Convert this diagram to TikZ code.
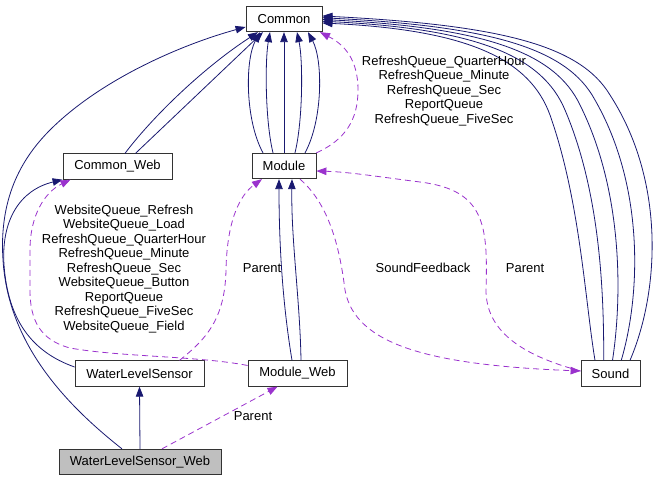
\documentclass[tikz,border=0pt]{standalone}
\usepackage{fontspec}
\setmainfont{Liberation Sans}
\usetikzlibrary{arrows.meta,calc}
\definecolor{navy}{HTML}{191970}
\definecolor{orchid}{HTML}{9A32CD}
\definecolor{grayfill}{HTML}{BFBFBF}
\begin{document}
\begin{tikzpicture}[x=1pt,y=-1pt,
  cls/.style={draw=black!80, fill=white, line width=0.8pt, inner sep=0pt, minimum height=25.5pt, font=\fontsize{13}{15}\selectfont},
  inh/.style={draw=navy, line width=0.8pt, -{Triangle[length=10pt,width=7.5pt]}},
  use/.style={draw=orchid, line width=0.8pt, dash pattern=on 6pt off 4pt, -{Triangle[length=10pt,width=7.5pt]}},
  lbl/.style={align=center, font=\fontsize{13}{14.5}\selectfont, inner sep=0pt}]
\useasboundingbox (0,0) rectangle (659,481);

% nodes
\node[cls, minimum width=76pt] (common) at (284,19) {Common};
\node[cls, minimum width=109pt] (cweb) at (117.5,166.5) {Common\_Web};
\node[cls, minimum width=64pt] (module) at (284,166) {Module};
\node[cls, minimum width=129pt] (wls) at (139.5,373.5) {WaterLevelSensor};
\node[cls, minimum width=99pt] (mweb) at (297.5,373.5) {Module\_Web};
\node[cls, minimum width=162pt, fill=grayfill] (wlsw) at (140,462) {WaterLevelSensor\_Web};
\node[cls, minimum width=59pt] (sound) at (610.5,373.5) {Sound};

% inheritance / solid edges
\draw[inh] (wlsw.north) -- (wls.south);
\draw[inh] ([xshift=-18pt]wlsw.north) .. controls (60,400) and (8,340) .. (3,260)
  .. controls (-1,200) and (20,160) .. (50,130)
  .. controls (100,80) and (180,45) .. ([yshift=-8pt]common.west);
\draw[inh] ([yshift=6.5pt]wls.west) .. controls (32,352) and (8,320) .. (4,265)
  .. controls (1,220) and (20,190) .. (cweb.south west);
\draw[inh] ([xshift=7.5pt]cweb.north) .. controls (150,120) and (200,70) .. ([xshift=-26pt]common.south);
\draw[inh] ([xshift=18pt]cweb.north) -- ([xshift=-21pt]common.south);

\draw[inh] ([xshift=-21pt]module.north) .. controls (245,120) and (245,60) .. ([xshift=-24pt]common.south);
\draw[inh] ([xshift=-11pt]module.north) .. controls (265,120) and (265,60) .. ([xshift=-14pt]common.south);
\draw[inh] (module.north) -- (common.south);
\draw[inh] ([xshift=11pt]module.north) .. controls (303,120) and (303,60) .. ([xshift=13pt]common.south);
\draw[inh] ([xshift=21pt]module.north) .. controls (323,120) and (323,60) .. ([xshift=24pt]common.south);

\foreach \t in {0,0.25,0.5,0.75,1}{
  \pgfmathsetmacro\sx{-15.5+35*\t}
  \pgfmathsetmacro\ey{-4+7*\t}
  \draw[inh] ([xshift=\sx pt]sound.north)
    .. controls ({585+75*\t},{300-10*\t}) and ({580+85*\t},{200-20*\t}) .. ({550+60*\t},{115-20*\t})
    .. controls ({530+50*\t},{60-15*\t}) and ({470+30*\t},{30-5*\t}) .. ([yshift=\ey pt]common.east);
}

\draw[inh] ([xshift=-5.5pt]mweb.north) .. controls (282,300) and (279,240) .. ([xshift=-5pt]module.south);
\draw[inh] ([xshift=3.5pt]mweb.north) .. controls (300,300) and (291,240) .. ([xshift=8pt]module.south);

% usage / dashed edges
\draw[use] ([xshift=40pt]wls.north) .. controls (205,340) and (225,320) .. (226,270)
  .. controls (227,220) and (240,195) .. ([xshift=-22pt]module.south);
\node[lbl] (lparent1) at (262,268) {Parent};

\draw[use] ([yshift=8pt]mweb.west) .. controls (200,356) and (120,357) .. (70,348)
  .. controls (40,340) and (30,320) .. (30,290) -- (30,250)
  .. controls (30,215) and (45,192) .. ([xshift=-47pt]cweb.south);
\node[lbl] (lqueues) at (124,269) {WebsiteQueue\_Refresh\\WebsiteQueue\_Load\\RefreshQueue\_QuarterHour\\RefreshQueue\_Minute\\RefreshQueue\_Sec\\WebsiteQueue\_Button\\ReportQueue\\RefreshQueue\_FiveSec\\WebsiteQueue\_Field};

\draw[use] ([xshift=22pt]wlsw.north) -- ([xshift=-20pt]mweb.south);
\node[lbl] (lparent2) at (253,416) {Parent};

\draw[use] (module.north east) .. controls (345,140) and (358,120) .. (358,90)
  .. controls (358,60) and (345,45) .. ([xshift=36pt]common.south);
\node[lbl] (lrefresh) at (444,91) {RefreshQueue\_QuarterHour\\RefreshQueue\_Minute\\RefreshQueue\_Sec\\ReportQueue\\RefreshQueue\_FiveSec};

\draw[use] ([xshift=16pt]module.south) .. controls (330,205) and (340,250) .. (345,290)
  .. controls (355,345) and (430,365) .. ([yshift=2.5pt]sound.west);
\node[lbl] (lsound) at (423,268) {SoundFeedback};

\draw[use] ([yshift=2.5pt]sound.west) .. controls (520,355) and (486,330) .. (486,290)
  .. controls (488,225) and (485,190) .. (420,182)
  .. controls (380,177) and (350,172) .. ([yshift=-5pt]module.east);
\node[lbl] (lparent3) at (525,268) {Parent};
\end{tikzpicture}
\end{document}
